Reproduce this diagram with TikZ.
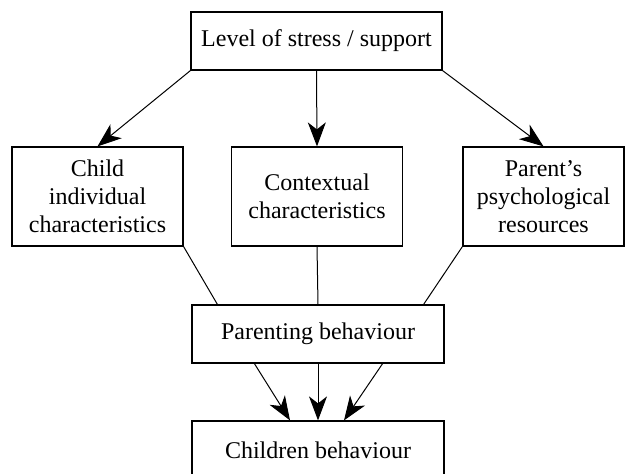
\documentclass[tikz,border=0pt]{standalone}
\usepackage{fontspec}
\setmainfont{Liberation Serif}
\usetikzlibrary{arrows.meta}

\begin{document}
\begin{tikzpicture}[x=0.5pt,y=-0.5pt]
				\tikzstyle{every node}=[draw,line width=0.6pt,inner sep=0pt,align=center,
				font=\rmfamily\fontsize{12}{14}\selectfont]
				\tikzstyle{wide}=[minimum width=126pt,minimum height=29pt]
				\tikzstyle{side}=[minimum width=85.5pt,minimum height=49.5pt]
				\tikzstyle{arr}=[line width=0.5pt,-{Stealth[length=12pt,width=9pt,inset=3.5pt]}]
				\tikzstyle{link}=[line width=0.5pt]
				\useasboundingbox (0,0) rectangle (625,474);
				% boxes
				\node[wide,minimum width=125.5pt] (stress) at (316.5,41) {Level of stress / support};
				\node[side] (child) at (97.5,196.5) {Child\\individual\\characteristics};
				\node[side] (context) at (317,196.5) {Contextual\\characteristics};
				\node[side,minimum width=80.5pt] (parent) at (543.5,196.5) {Parent's\\psychological\\resources};
				\node[wide] (parenting) at (318,334) {Parenting behaviour};
				\node[wide] (children) at (318,450) {Children behaviour};
				% arrows
				\draw[arr] (stress.south west) -- (child.north);
				\draw[arr] (stress.south) -- (context.north);
				\draw[arr] (stress.south east) -- (parent.north);
				\draw[link] (child.south east) -- ([xshift=13pt]parenting.north west);
				\draw[link] (context.south) -- (parenting.north);
				\draw[link] (parent.south west) -- ([xshift=-10.5pt]parenting.north east);
				\draw[arr] ([xshift=31.5pt]parenting.south west) -- ([xshift=-14pt]children.north);
				\draw[arr] (parenting.south) -- (children.north);
				\draw[arr] ([xshift=-31pt]parenting.south east) -- ([xshift=13pt]children.north);
\end{tikzpicture}
\end{document}
